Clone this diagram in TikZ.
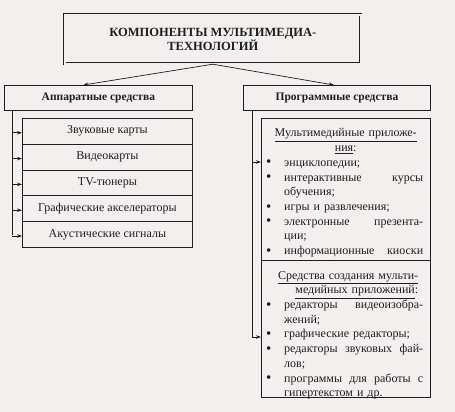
\documentclass[tikz,border=0pt]{standalone}
\usepackage{fontspec}
\setmainfont{Liberation Serif}
\usetikzlibrary{arrows.meta,calc}
\definecolor{bg}{HTML}{F3EFEF}
\definecolor{ink}{HTML}{1E1E1E}
\setlength\parindent{0pt}
\newcommand\bl[1]{\makebox[23pt][l]{\hspace{5pt}{\fontsize{15}{14}\selectfont\raisebox{-0.6pt}{\textbullet}}}#1}
\newcommand\jl[1]{\makebox[139pt]{#1}}
\newcommand\ct[1]{\hspace*{23pt}#1}
\begin{document}
\begin{tikzpicture}[x=1pt,y=-1pt,
  every node/.style={text=ink},
  box/.style={draw=ink, line width=0.8pt, inner sep=0pt, anchor=north west},
  titlebox/.style={box, double=bg, double distance=1.6pt, line width=0.7pt},
  arr/.style={draw=ink, line width=0.7pt, -{Stealth[length=5pt,width=3.5pt]}},
  ln/.style={draw=ink, line width=0.7pt},
  txt/.style={font=\fontsize{12}{14.7}\selectfont},
  hdr/.style={font=\bfseries\fontsize{11.5}{13}\selectfont},
  body/.style={anchor=north west, inner sep=0pt, text width=169pt, align=left, txt}
]
\fill[bg] (0,0) rectangle (455,412);
\useasboundingbox (0,0) rectangle (455,412);

% title
\node[titlebox, minimum width=296pt, minimum height=49pt, align=center,
      font=\bfseries\fontsize{12.5}{14.5}\selectfont] (title) at (64.5,14.5)
  {КОМПОНЕНТЫ МУЛЬТИМЕДИА-\\ТЕХНОЛОГИЙ};

% headers
\node[box, hdr, minimum width=188pt, minimum height=25pt] (hw) at (4,85) {Аппаратные средства};
\node[box, hdr, minimum width=187pt, minimum height=25pt] (sw) at (243,85) {Программные средства};

\draw[arr] (title.south) -- ([xshift=-15pt]hw.north);
\draw[arr] (title.south) -- ([xshift=-3pt]sw.north);

% hardware list
\foreach \i/\t in {1/Звуковые карты,2/Видеокарты,3/TV-тюнеры,4/Графические акселераторы,5/Акустические сигналы}{
  \node[box, txt, minimum width=170pt, minimum height=25.8pt] (item\i) at (22,{118+25.8*(\i-1)}) {\t};
}
\coordinate (lv) at ([xshift=8pt]hw.south west);
\draw[ln] (lv) -- (lv |- item5.west);
\foreach \i in {1,...,5}{
  \draw[arr] ([yshift=-1.5pt]lv |- item\i.west) -- ([yshift=-1.5pt]item\i.west);
}

% software boxes
\node[box, minimum width=169pt, minimum height=142pt] (m1) at (261,118) {};
\node[box, minimum width=169pt, minimum height=137pt] (m2) at (261,260) {};

\node[body] (m1t) at (261,128.5) {%
\makebox[169pt]{\underline{Мультимедийные приложе-}}\\
\makebox[169pt]{\underline{ния}:}\\
\bl{энциклопедии;}\\
\bl{\jl{интерактивные\hfill курсы}}\\
\ct{обучения;}\\
\bl{игры и развлечения;}\\
\bl{\jl{электронные\hfill презента-}}\\
\ct{ции;}\\
\bl{\jl{информационные\hfill киоски}}};

\node[body] (m2t) at (261,271) {%
\makebox[157pt][r]{\underline{Средства создания мульти-}}\\
\makebox[157pt][r]{\underline{медийных приложений}:}\\
\bl{\jl{редакторы\hfill видеоизобра-}}\\
\ct{жений;}\\
\bl{графические редакторы;}\\
\bl{\jl{редакторы\hfill звуковых\hfill фай-}}\\
\ct{лов;}\\
\bl{\jl{программы\hfill для\hfill работы\hfill с}}\\
\ct{гипертекстом и др.}};

\coordinate (rv) at ([xshift=9pt]sw.south west);
\coordinate (a1) at ($(m1.north west)+(0,44)$);
\coordinate (a2) at ($(m2.north west)+(0,77)$);
\draw[ln] (rv) -- (rv |- a2);
\draw[arr] (rv |- a1) -- (a1);
\draw[arr] (rv |- a2) -- (a2);
\end{tikzpicture}
\end{document}
